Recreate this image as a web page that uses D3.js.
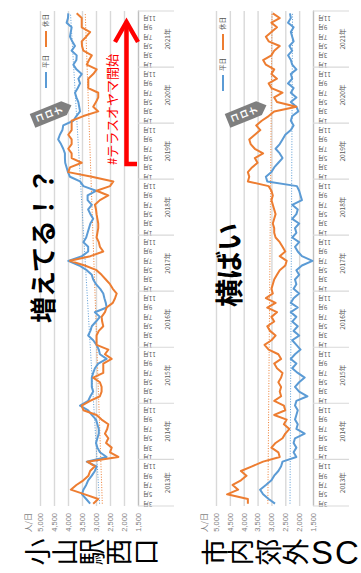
<!DOCTYPE html>
<html>
<head>
<meta charset="utf-8">
<script src="https://cdn.jsdelivr.net/npm/d3@7"></script>
<style>
  body { margin: 0; background: #fff; }
  svg { display: block; }
  text { font-family: "Noto Sans CJK JP", "Noto Sans", sans-serif; }
</style>
</head>
<body>
<svg id="chart" width="361" height="573"></svg>
<script>
// months 2013-03 .. 2021-12
const years = [2013, 2014, 2015, 2016, 2017, 2018, 2019, 2020, 2021]
const firstMonth = 3
const valueTicks = [1500, 2000, 2500, 3000, 3500, 4000, 4500, 5000]
const seriesNames = ["平日", "休日"]

// 小山駅西口
const ekiHeijitsu = [3210,3350,3500,3450,3350,3280,3150,3040,2980,3330,2620,2860,2950,3000,2950,2900,2900,2950,3000,3150,3280,3570,3280,3200,3100,3150,3150,3150,3100,3040,2920,2620,2860,2900,2980,3100,3280,3200,3150,3000,2860,3040,2620,2650,2700,2740,2850,3000,3100,3150,3330,3600,3990,3500,3280,3280,3450,3350,3300,3250,3200,3100,3200,3280,3150,3300,3300,3000,3450,3570,3930,4000,4050,4100,4110,4110,4170,4250,4350,4290,4200,4170,3810,3700,3570,3600,3630,3700,3750,3650,3570,3630,3510,3700,3810,3700,3690,3870,3750,3850,3930,3900,3870,4050,4000,3990]
const ekiKyujitsu = [3100,2920,3400,3900,3700,3450,3270,3210,3040,3310,2200,2500,2440,2640,2560,2680,2600,2560,2800,2980,3450,3510,3210,2860,2800,2800,2860,3100,2740,2740,2740,2440,2680,2560,2980,2980,2980,2900,2740,2780,2800,2680,2620,2400,2320,2260,2400,2500,2650,2800,2980,3400,3930,3200,2740,2860,2900,2980,2950,2920,2920,2950,2980,3000,3040,2860,2560,2980,2500,2380,3150,3990,3930,3510,3870,3870,3990,3870,3870,3990,3870,3870,3870,3450,2920,3100,3000,2920,2920,3275,3275,3275,3100,2975,3330,3250,3150,3450,3500,3510,3350,3210,3510,3510,3510,3690]

// 市内郊外SC
const scHeijitsu = [2870,3100,3300,3410,3200,3000,2900,2750,2650,2600,2100,2200,2100,2200,2150,1800,2100,2050,2150,2100,2050,2150,2100,1700,2000,2150,2000,1800,2050,2250,2100,2300,2150,1950,2100,2250,2000,2200,2050,2250,2100,2300,2050,2300,2200,2000,2200,2100,2150,2000,2100,1900,1520,1900,2050,2150,2000,2250,2100,2150,2000,2250,2100,2050,2250,1900,1950,2000,2080,3150,3200,3000,2900,2750,2600,2700,2850,2700,2600,2500,2300,2200,2300,2250,2030,2100,2300,2100,2300,2200,2400,2250,2300,2100,2250,2300,2400,2250,2350,2200,2250,2300,2200,2400,2300,2330]
const scKyujitsu = [3850,3850,4600,4200,4400,4100,3900,4100,3700,3300,2700,2750,3000,2850,2600,2500,2350,2550,2450,2900,2500,2550,2900,2650,2700,2650,2750,2650,2600,2800,2900,2650,2750,3100,3250,3000,2850,3050,3150,2900,3000,2800,3150,2850,3200,2950,3000,2950,2900,2800,2700,2500,2450,2700,2500,2600,2700,2850,2900,2900,2950,2900,2850,2900,2950,3000,2950,3000,3100,3850,3800,3850,3700,3500,3600,3300,3600,3750,3800,3600,3400,3550,3350,3100,2900,2100,2800,2900,2600,3000,3100,2800,3000,2900,3200,3300,3000,2900,2700,3100,3200,3000,2800,3000,2700,2950]

const months = []
years.forEach(yr => {
    for (let m = (yr === years[0] ? firstMonth : 1); m <= 12; m++) months.push({ year: yr, month: m, key: yr + "-" + m })
})

const blue = "#5b9bd5"
const orange = "#ed7d31"
const grid = "#d9d9d9"
const labelGrey = "#7f7f7f"

let svg = d3.select("#chart")

// the whole chart is drawn lying on its side, so build it upright then turn it
let root = svg.append("g").attr("transform", "translate(0,573) rotate(-90)")

let plotLeft = 67, plotRight = 562

let x = d3.scaleBand()
    .domain(months.map(d => d.key))
    .range([plotLeft, plotRight])
let cx = key => x(key) + x.bandwidth() / 2

function drawChart(cfg) {
    let y = d3.scaleLinear().domain([1500, 5000]).range([cfg.bottom, cfg.top])
    let g = root.append("g")

    // value axis with gridlines
    let yAxis = d3.axisLeft(y)
        .tickValues(valueTicks)
        .tickSize(-(plotRight - plotLeft))
        .tickPadding(7)
        .tickFormat(d3.format(","))
    let gY = g.append("g")
        .attr("transform", "translate(" + plotLeft + ",0)")
        .call(yAxis)
    gY.select(".domain").remove()
    gY.selectAll(".tick line").attr("stroke", grid).attr("stroke-width", 1.4)
    gY.selectAll(".tick text").attr("fill", labelGrey).style("font-size", "7.5px")
        .style("font-family", "'Liberation Sans', Arial, sans-serif")

    g.append("text")
        .attr("x", plotLeft - 7)
        .attr("y", cfg.top - 9)
        .attr("text-anchor", "end")
        .attr("fill", labelGrey)
        .style("font-size", "8px")
        .text("人/日")

    // category axis: months, then years
    let xAxis = d3.axisBottom(x)
        .tickValues(months.filter(d => d.month % 2 === 1).map(d => d.key))
        .tickSize(0)
        .tickFormat(k => k.split("-")[1] + "月")
    let gX = g.append("g")
        .attr("transform", "translate(0," + cfg.bottom + ")")
        .call(xAxis)
    gX.select(".domain").attr("stroke", "#bfbfbf").attr("stroke-width", 1.2)
    gX.selectAll(".tick text")
        .attr("transform", "rotate(-90)")
        .attr("x", -5)
        .attr("y", 0)
        .attr("dy", "0.35em")
        .style("text-anchor", "end")
        .style("font-size", "6px")
        .attr("fill", "#595959")

    let bounds = years.map(yr => x(months.find(d => d.year === yr).key))
    bounds.push(plotRight)
    g.selectAll(".yearsep").data(bounds).enter().append("line")
        .attr("x1", d => d).attr("x2", d => d)
        .attr("y1", cfg.bottom).attr("y2", cfg.bottom + 36)
        .attr("stroke", grid).attr("stroke-width", 1.2)

    g.selectAll(".yearlabel").data(years).enter().append("text")
        .attr("x", (d, i) => (bounds[i] + bounds[i + 1]) / 2)
        .attr("y", cfg.bottom + 32)
        .attr("text-anchor", "middle")
        .attr("fill", "#595959")
        .style("font-size", "6.5px")
        .text(d => d + "年")

    // trendlines (least squares on month index)
    cfg.series.forEach(s => {
        let n = s.values.length
        let mx = d3.mean(d3.range(n)), my = d3.mean(s.values)
        let sxy = d3.sum(s.values, (v, i) => (i - mx) * (v - my))
        let sxx = d3.sum(d3.range(n), i => (i - mx) * (i - mx))
        let b = sxy / sxx, a = my - b * mx
        g.append("line")
            .attr("x1", cx(months[0].key)).attr("y1", y(a))
            .attr("x2", cx(months[n - 1].key)).attr("y2", y(a + b * (n - 1)))
            .attr("stroke", s.color).attr("stroke-width", 1)
            .attr("stroke-dasharray", "1,1.6")
    })

    let line = d3.line()
        .x((v, i) => cx(months[i].key))
        .y(v => y(v))
        .curve(d3.curveLinear)

    cfg.series.forEach(s => {
        g.append("path")
            .datum(s.values)
            .attr("d", line)
            .attr("fill", "none")
            .attr("stroke", s.color)
            .attr("stroke-width", 2)
            .attr("stroke-linejoin", "round")
    })

    // legend
    cfg.series.forEach((s, i) => {
        let lx = cfg.legendX[i]
        g.append("line")
            .attr("x1", lx).attr("x2", lx + 16)
            .attr("y1", cfg.legendY).attr("y2", cfg.legendY)
            .attr("stroke", s.color).attr("stroke-width", 2)
        g.append("text")
            .attr("x", lx + 20).attr("y", cfg.legendY)
            .attr("dy", "0.35em")
            .attr("fill", "#595959")
            .style("font-size", "6.5px")
            .text(s.name)
    })

    // big comment
    g.append("text")
        .attr("x", cfg.comment.x).attr("y", cfg.comment.y)
        .style("font-size", cfg.comment.size + "px")
        .style("font-weight", "bold")
        .attr("fill", "#000")
        .text(cfg.comment.text)

    return { g: g, y: y }
}

let c1 = drawChart({
    top: 40, bottom: 138,
    legendY: 46, legendX: [485, 526],
    comment: { text: "増えてる！？", x: 250, y: 53, size: 26 },
    series: [
        { name: seriesNames[0], values: ekiHeijitsu, color: blue },
        { name: seriesNames[1], values: ekiKyujitsu, color: orange }
    ]
})

let c2 = drawChart({
    top: 216, bottom: 313,
    legendY: 223, legendX: [482, 523],
    comment: { text: "横ばい", x: 266, y: 240, size: 28 },
    series: [
        { name: seriesNames[0], values: scHeijitsu, color: blue },
        { name: seriesNames[1], values: scKyujitsu, color: orange }
    ]
})

// red note on the first chart
c1.g.append("text")
    .attr("x", 408).attr("y", 117)
    .attr("fill", "#ff0000")
    .style("font-size", "13px")
    .text("#テラスオヤマ開始")

c1.g.append("polyline")
    .attr("points", "409,137 409,126.5 550,126.5")
    .attr("fill", "none").attr("stroke", "#ff0000").attr("stroke-width", 4.5)
c1.g.append("polyline")
    .attr("points", "531,115 551,126.5 531,138")
    .attr("fill", "none").attr("stroke", "#ff0000").attr("stroke-width", 4.5)

// the rest is placed straight in page coordinates
let overlay = svg.append("g")

function callout(px, py) {
    let c = overlay.append("g").attr("transform", "translate(" + px + "," + py + ") rotate(-22)")
    c.append("path")
        .attr("d", "M-21,-7.5 L13,-7.5 L21,0 L13,7.5 L-21,7.5 Z")
        .attr("fill", "#7f7f7f")
    ;["コ", "ロ", "ナ"].forEach((ch, i) => {
        let tx = -13 + i * 10
        c.append("text")
            .attr("x", tx).attr("y", 0)
            .attr("dy", "0.35em")
            .attr("text-anchor", "middle")
            .attr("transform", "rotate(-90," + tx + ",0)")
            .attr("fill", "#fff")
            .style("font-size", "9px")
            .style("font-weight", "bold")
            .text(ch)
    })
}
callout(52, 113)
callout(247, 113)

function sideTitle(chars, centers, size) {
    chars.forEach((ch, i) => {
        let tx = centers[i], ty = 552
        let upright = /[A-Za-z]/.test(ch)
        overlay.append("text")
            .attr("x", tx).attr("y", ty)
            .attr("dy", upright ? "0.37em" : "0.36em")
            .attr("text-anchor", "middle")
            .attr("transform", upright ? null : "rotate(-90," + tx + "," + ty + ")")
            .style("font-size", (upright ? size + 6 : size) + "px")
            .style("font-family", upright ? "'Liberation Sans', Arial, sans-serif" : null)
            .text(ch)
    })
}
sideTitle(["小", "山", "駅", "西", "口"], [38.5, 65.5, 92.5, 119.5, 146.5], 27)
sideTitle(["市", "内", "郊", "外", "S", "C"], [215, 241, 269, 296, 322, 347], 27)
</script>
</body>
</html>
